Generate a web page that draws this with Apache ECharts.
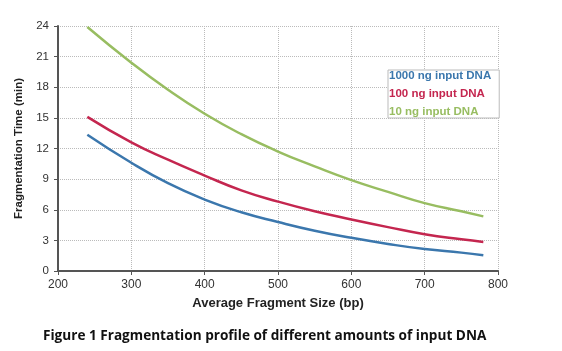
<!DOCTYPE html>
<html>
<head>
<meta charset="utf-8">
<script src="https://cdn.jsdelivr.net/npm/echarts@6/dist/echarts.min.js"></script>
<style>
  html, body { margin: 0; padding: 0; background: #fff; }
  #chart { width: 562px; height: 351px; }
</style>
</head>
<body>
<div id="chart"></div>
<script>
// fragment sizes (bp) at which the curves were read
const fragmentSizes = [240, 300, 350, 400, 450, 500, 550, 600, 650, 700, 750, 780]
const seriesNames = ['1000 ng input DNA', '100 ng input DNA', '10 ng input DNA']
const time1000ng = [13.35, 10.6, 8.6, 7.0, 5.75, 4.8, 3.95, 3.25, 2.65, 2.15, 1.8, 1.55]
const time100ng = [15.1, 12.6, 10.9, 9.35, 7.9, 6.8, 5.85, 5.05, 4.3, 3.6, 3.1, 2.85]
const time10ng = [23.9, 20.4, 17.75, 15.4, 13.4, 11.7, 10.25, 8.9, 7.75, 6.65, 5.85, 5.35]
const colors = ['#3b77ad', '#c4264f', '#98bd61']

const chart = echarts.init(document.getElementById('chart'))

const toPairs = (ys) => fragmentSizes.map((x, i) => [x, ys[i]])
const font = 'Liberation Sans, Arial'

chart.setOption({
  animation: false,
  color: colors,
  grid: { left: 58, right: 64, top: 26, bottom: 80 },
  legend: {
    orient: 'vertical',
    left: 388,
    top: 70,
    itemWidth: 0,
    itemHeight: 0,
    itemGap: 6,
    padding: [0, 8, 0, 0],
    borderColor: '#bbb',
    borderWidth: 1,
    backgroundColor: '#fff',
    data: seriesNames.map((name, i) => ({
      name,
      icon: 'rect',
      textStyle: {
        color: colors[i], fontSize: 11.5, fontWeight: 'bold', fontFamily: font,
        padding: [0, 0, 0, -4],
      },
    })),
  },
  xAxis: {
    type: 'value',
    min: 200,
    max: 800,
    interval: 100,
    name: 'Average Fragment Size (bp)',
    nameLocation: 'middle',
    nameGap: 26,
    nameTextStyle: { fontFamily: font, fontSize: 13, fontWeight: 'bold', color: '#222' },
    axisLine: { lineStyle: { color: '#555', width: 2 } },
    axisTick: { show: true, length: 4, lineStyle: { color: '#555' } },
    axisLabel: { fontFamily: font, fontSize: 12, color: '#333', margin: 8 },
    splitLine: { lineStyle: { color: '#bbb', type: 'dotted' } },
  },
  yAxis: {
    type: 'value',
    min: 0,
    max: 24,
    interval: 3,
    name: 'Fragmentation Time (min)',
    nameLocation: 'middle',
    nameGap: 30,
    nameTextStyle: { fontFamily: font, fontSize: 11.5, fontWeight: 'bold', color: '#222' },
    axisLine: { show: true, lineStyle: { color: '#555', width: 2 } },
    axisTick: { show: true, length: 4, lineStyle: { color: '#555' } },
    axisLabel: { fontFamily: font, fontSize: 11.5, color: '#333', margin: 9 },
    splitLine: { lineStyle: { color: '#bbb', type: 'dotted' } },
  },
  series: [time1000ng, time100ng, time10ng].map((ys, i) => ({
    name: seriesNames[i],
    type: 'line',
    smooth: true,
    showSymbol: false,
    data: toPairs(ys),
    lineStyle: { width: 2.5, color: colors[i] },
  })),
  graphic: [
    {
      type: 'text',
      left: 43,
      top: 329,
      style: {
        text: 'Figure 1 Fragmentation profile of different amounts of input DNA',
        font: 'bold 13.6px "Open Sans", sans-serif',
        fill: '#111',
      },
    },
  ],
})
</script>
</body>
</html>
